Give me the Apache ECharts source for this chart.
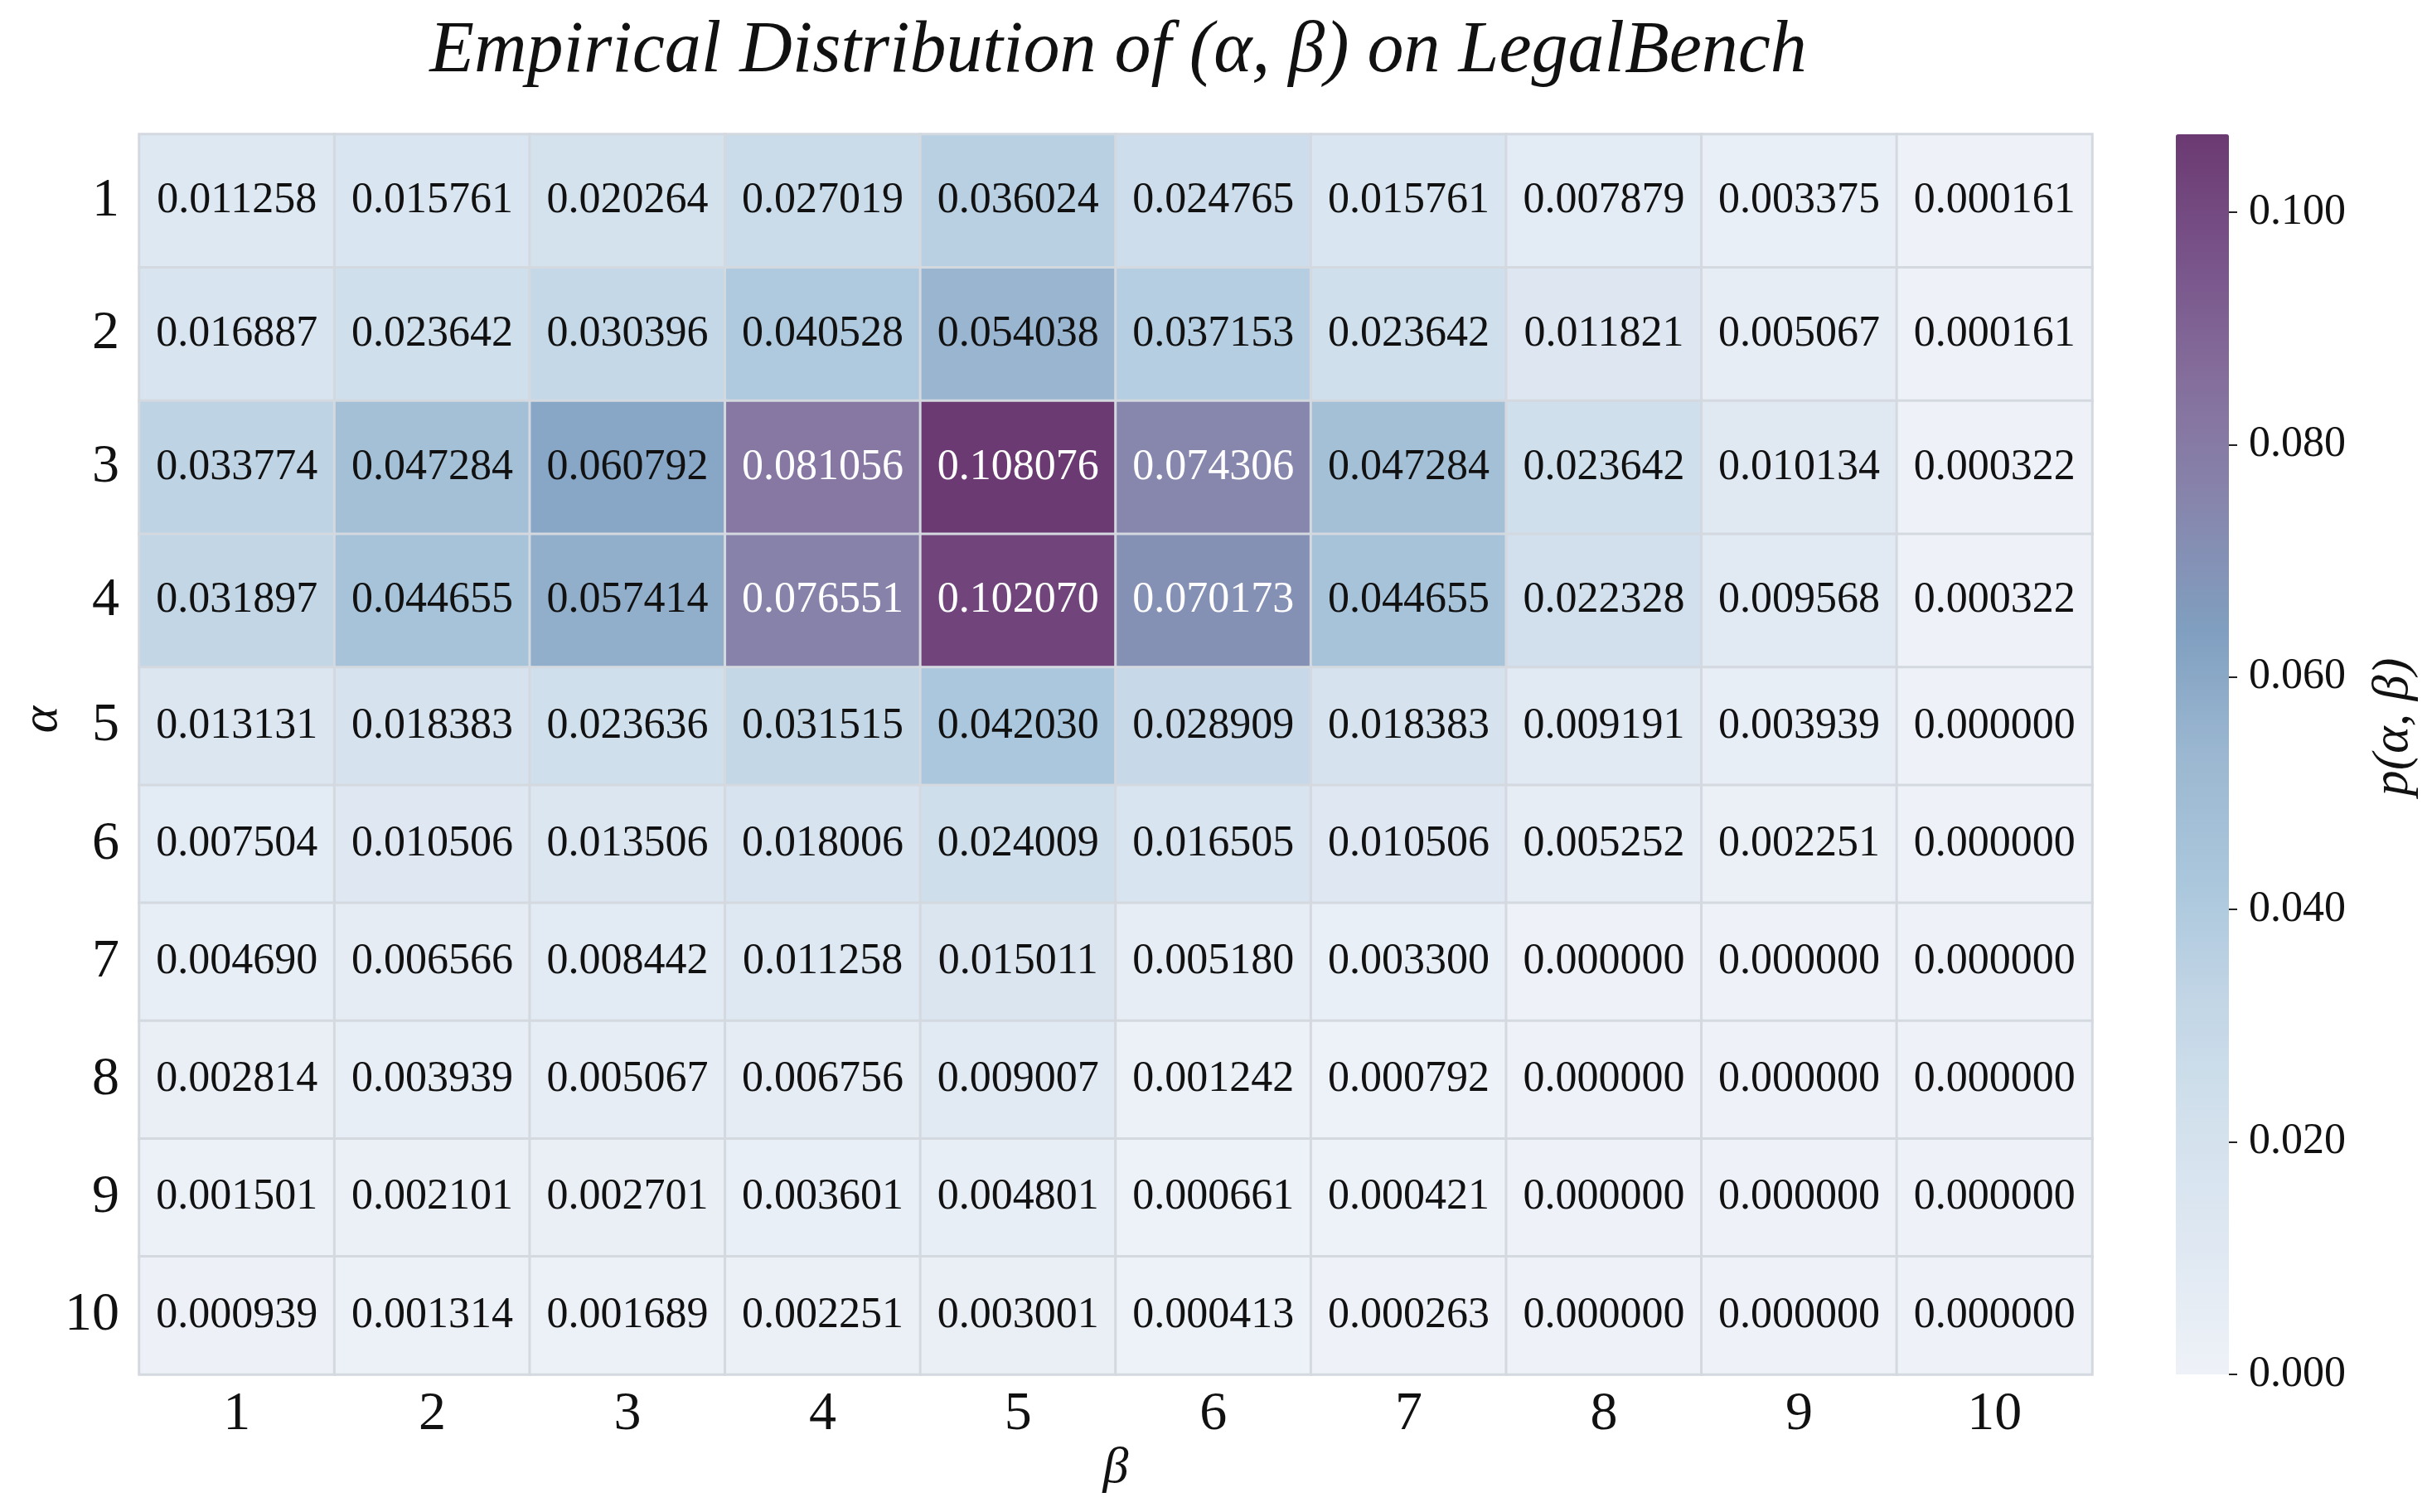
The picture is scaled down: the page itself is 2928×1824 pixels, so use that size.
<!DOCTYPE html>
<html>
<head>
<meta charset="utf-8">
<script src="https://cdn.jsdelivr.net/npm/echarts@6/dist/echarts.min.js"></script>
<style>
html,body{margin:0;padding:0;background:#fff;}
#main{width:2928px;height:1824px;}
</style>
</head>
<body>
<div id="main"></div>
<script>
// beta on x, alpha on y
var betaLabels = ['1','2','3','4','5','6','7','8','9','10'];
var alphaLabels = ['1','2','3','4','5','6','7','8','9','10'];
var colorbarMax = 0.1067;
var colorbarTickMax = 0.10;
var colorbarStep = 0.02;

var row1  = [0.011258,0.015761,0.020264,0.027019,0.036024,0.024765,0.015761,0.007879,0.003375,0.000161];
var row2  = [0.016887,0.023642,0.030396,0.040528,0.054038,0.037153,0.023642,0.011821,0.005067,0.000161];
var row3  = [0.033774,0.047284,0.060792,0.081056,0.108076,0.074306,0.047284,0.023642,0.010134,0.000322];
var row4  = [0.031897,0.044655,0.057414,0.076551,0.102070,0.070173,0.044655,0.022328,0.009568,0.000322];
var row5  = [0.013131,0.018383,0.023636,0.031515,0.042030,0.028909,0.018383,0.009191,0.003939,0.000000];
var row6  = [0.007504,0.010506,0.013506,0.018006,0.024009,0.016505,0.010506,0.005252,0.002251,0.000000];
var row7  = [0.004690,0.006566,0.008442,0.011258,0.015011,0.005180,0.003300,0.000000,0.000000,0.000000];
var row8  = [0.002814,0.003939,0.005067,0.006756,0.009007,0.001242,0.000792,0.000000,0.000000,0.000000];
var row9  = [0.001501,0.002101,0.002701,0.003601,0.004801,0.000661,0.000421,0.000000,0.000000,0.000000];
var row10 = [0.000939,0.001314,0.001689,0.002251,0.003001,0.000413,0.000263,0.000000,0.000000,0.000000];
var rows = [row1,row2,row3,row4,row5,row6,row7,row8,row9,row10];

var FONT = 'Liberation Serif';
var cmap = ['#eef2f8','#dfe8f2','#d3e1ed','#c2d6e6','#aac6dc','#9bb7d1','#809fc0','#8786ad','#856f9c','#78538a','#6c3a72'];

// colorbar geometry
var cbLeft = 2625, cbTop = 162, cbW = 64, cbH = 1496;
// the tick axis only runs up to 0.10, so shrink its grid from the top
var cbAxisTop = cbTop + cbH * (1 - colorbarTickMax / colorbarMax);

// rows 1-4 sit in a taller band than rows 5-10, so use two grids
function cells(from, to){
	var out = [];
	for(var r=from;r<to;r++){
		for(var c=0;c<betaLabels.length;c++){
			var v = rows[r][c];
			out.push({value:[c, r-from, v], label:{color: v > 0.065 ? '#ffffff' : '#111111'}});
		}
	}
	return out;
}

var chart = echarts.init(document.getElementById('main'));
var option = {
	backgroundColor:'#ffffff',
	animation:false,
	title:{
		text:'Empirical Distribution of (\u03b1, \u03b2) on LegalBench',
		left:1344, top:14, textAlign:'center',
		textStyle:{fontFamily:FONT, fontStyle:'italic', fontWeight:'normal', fontSize:88, color:'#111'}
	},
	grid:[
		{left:168, top:162, width:2356, height:643},
		{left:168, top:805, width:2356, height:853},
		{left:cbLeft, top:cbAxisTop, width:cbW, height:cbTop + cbH - cbAxisTop}
	],
	xAxis:[
		{type:'category', gridIndex:0, data:betaLabels, show:false},
		{type:'category', gridIndex:1, data:betaLabels, position:'bottom',
		 axisLine:{show:false}, axisTick:{show:false}, splitLine:{show:false},
		 axisLabel:{fontFamily:FONT, fontSize:66, color:'#111', margin:16},
		 name:'\u03b2', nameLocation:'middle', nameGap:80,
		 nameTextStyle:{fontFamily:FONT, fontStyle:'italic', fontSize:62, color:'#111'}},
		{type:'value', gridIndex:2, show:false}
	],
	yAxis:[
		{type:'category', gridIndex:0, data:alphaLabels.slice(0,4), inverse:true,
		 axisLine:{show:false}, axisTick:{show:false}, splitLine:{show:false},
		 axisLabel:{fontFamily:FONT, fontSize:66, color:'#111', margin:24}},
		{type:'category', gridIndex:1, data:alphaLabels.slice(4), inverse:true,
		 axisLine:{show:false}, axisTick:{show:false}, splitLine:{show:false},
		 axisLabel:{fontFamily:FONT, fontSize:66, color:'#111', margin:24}},
		{type:'value', gridIndex:2, min:0, max:colorbarTickMax, interval:colorbarStep, position:'right', z:10,
		 axisLine:{show:false, onZero:false}, splitLine:{show:false},
		 axisTick:{show:true, length:10, lineStyle:{color:'#222', width:2}},
		 axisLabel:{fontFamily:FONT, fontSize:52, color:'#111', margin:24,
		   formatter:function(v){return v.toFixed(3);}}}
	],
	visualMap:{
		type:'continuous', min:0, max:colorbarMax, seriesIndex:[0,1],
		calculable:false, orient:'vertical', padding:0,
		left:cbLeft, top:cbTop, itemWidth:cbW, itemHeight:cbH,
		inRange:{color:cmap}
	},
	graphic:[
		{type:'text', x:52, y:868, rotation:Math.PI/2,
		 style:{text:'\u03b1', fontFamily:FONT, fontStyle:'italic', fontSize:62, fill:'#111', align:'center', verticalAlign:'middle'}},
		{type:'text', x:2888, y:877, rotation:Math.PI/2,
		 style:{text:'p(\u03b1, \u03b2)', fontFamily:FONT, fontStyle:'italic', fontSize:62, fill:'#111', align:'center', verticalAlign:'middle'}}
	],
	series:[]
};
var bands = [[0,4],[4,10]];
for(var i=0;i<bands.length;i++){
	option.series.push({
		type:'heatmap', xAxisIndex:i, yAxisIndex:i,
		data:cells(bands[i][0], bands[i][1]),
		itemStyle:{borderColor:'#d4d8df', borderWidth:3},
		label:{show:true, fontFamily:FONT, fontSize:52,
			formatter:function(p){return p.value[2].toFixed(6);}},
		emphasis:{disabled:true}
	});
}
chart.setOption(option);
</script>
</body>
</html>
